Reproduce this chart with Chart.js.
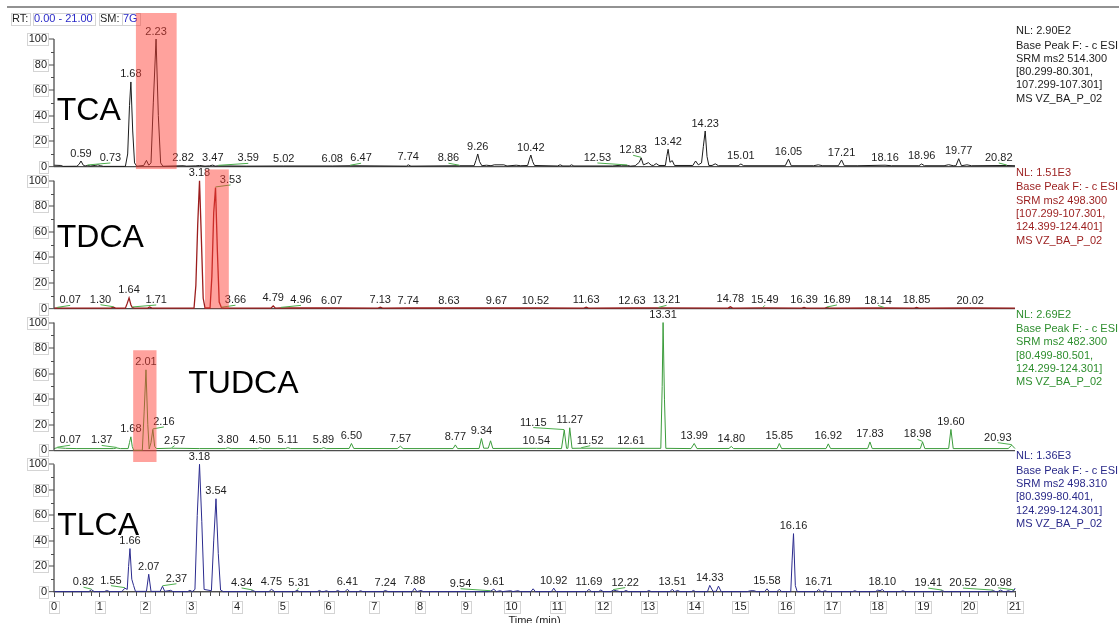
<!DOCTYPE html>
<html>
<head>
<meta charset="utf-8">
<script src="https://cdn.jsdelivr.net/npm/chart.js@4.4.1/dist/chart.umd.min.js"></script>
<style>
  html, body { margin: 0; padding: 0; background: #fff; }
  #wrap { position: relative; width: 1119px; height: 623px; }
  canvas { display: block; }
</style>
</head>
<body>
<div id="wrap"><canvas id="chrom" width="1119" height="623"></canvas></div>
<script>
// ---- retention-time traces: [time (min), relative abundance %] ----
const tcaTrace = [[0.00,1.2],[0.15,1.0],[0.20,0.3],[0.50,0.4],[0.55,2.0],[0.59,4.5],[0.64,1.2],[0.68,0.6],[0.73,1.0],[0.80,0.6],[0.90,1.0],[0.96,1.5],[1.02,0.8],[1.08,0.3],[1.56,0.3],[1.61,10],[1.65,48],[1.68,66.4],[1.72,28],[1.76,3],[1.81,0.4],[1.96,1.0],[2.02,5.0],[2.07,1.2],[2.12,3],[2.17,50],[2.23,100],[2.28,40],[2.33,3],[2.38,0.4],[2.82,0.8],[2.90,0.5],[3.10,0.7],[3.18,1.0],[3.30,0.5],[3.40,0.7],[3.47,1.3],[3.52,0.5],[3.59,0.7],[4.20,0.5],[5.02,0.6],[6.08,0.6],[6.47,0.8],[7.70,0.5],[7.74,1.5],[7.80,0.5],[8.86,0.8],[9.18,0.8],[9.22,5],[9.26,10],[9.30,4],[9.35,0.8],[9.45,1.2],[9.55,0.8],[9.62,1.5],[9.83,1.5],[9.90,0.6],[10.10,1.2],[10.20,0.8],[10.35,1.0],[10.39,6],[10.42,9.2],[10.46,4],[10.50,1.0],[11.00,0.6],[11.06,1.5],[11.12,0.6],[11.26,0.6],[11.31,1.5],[11.36,0.6],[12.20,0.6],[12.40,1.2],[12.53,1.0],[12.60,0.5],[12.70,0.8],[12.79,3.5],[12.83,7],[12.88,1.5],[12.93,2.2],[12.99,3.2],[13.05,1.2],[13.10,1.0],[13.16,2.5],[13.22,1.0],[13.36,1.0],[13.39,8],[13.42,13.7],[13.46,3.5],[13.51,4.8],[13.56,1.0],[13.96,1.0],[14.02,4.5],[14.08,1.5],[14.15,3],[14.19,16],[14.23,28],[14.27,8],[14.31,1.0],[14.38,1.0],[14.45,2.3],[14.52,0.8],[14.95,0.8],[15.01,2.2],[15.07,0.8],[15.98,0.8],[16.05,6],[16.11,0.8],[16.60,0.8],[16.70,1.5],[16.80,0.8],[17.14,0.8],[17.21,5.3],[17.27,0.8],[17.55,0.8],[18.16,1.2],[18.30,0.8],[18.90,0.8],[18.96,2.2],[19.02,0.8],[19.45,0.8],[19.55,1.6],[19.65,0.8],[19.71,0.8],[19.77,6.3],[19.83,0.8],[19.95,1.5],[20.05,0.8],[20.82,1.0],[21.00,0.8]];

const tdcaTrace = [[0.00,0.3],[0.07,0.5],[0.20,0.3],[1.24,0.3],[1.30,1.0],[1.36,0.2],[1.56,0.3],[1.60,4],[1.64,8.3],[1.68,3],[1.71,0.8],[1.76,0.3],[2.05,0.3],[2.09,1.2],[2.14,0.3],[3.06,0.3],[3.10,18],[3.14,65],[3.18,100],[3.22,55],[3.26,8],[3.30,0.4],[3.41,0.4],[3.45,25],[3.49,75],[3.53,94.8],[3.57,45],[3.61,5],[3.66,0.6],[3.72,0.3],[4.74,0.3],[4.79,2],[4.84,0.3],[4.96,0.5],[6.07,0.4],[7.08,0.3],[7.13,1.0],[7.18,0.3],[7.74,0.4],[8.63,0.4],[9.67,0.4],[10.52,0.4],[11.58,0.3],[11.63,1.0],[11.68,0.3],[12.63,0.4],[13.21,0.5],[14.73,0.3],[14.78,1.3],[14.83,0.3],[15.49,0.5],[16.34,0.3],[16.39,0.9],[16.44,0.3],[16.84,0.3],[16.89,0.8],[16.94,0.3],[18.14,0.4],[18.80,0.3],[18.85,0.8],[18.90,0.3],[20.02,0.4],[21.00,0.3]];

const tudcaTrace = [[0.00,1.3],[0.07,2.0],[0.25,1.5],[0.50,1.3],[1.30,1.3],[1.37,1.8],[1.45,1.3],[1.62,1.3],[1.65,6],[1.68,10.5],[1.71,3],[1.74,0],[1.93,0],[1.97,30],[2.01,63],[2.05,20],[2.08,1.0],[2.12,6],[2.16,16.3],[2.20,3],[2.24,1.3],[2.57,1.6],[3.18,1.3],[3.75,1.3],[3.80,1.9],[3.87,1.3],[4.45,1.3],[4.50,1.9],[4.56,1.3],[5.06,1.3],[5.11,2.0],[5.17,1.3],[5.84,1.3],[5.89,2.0],[5.95,1.3],[6.45,1.4],[6.50,5.3],[6.55,1.4],[7.50,1.3],[7.57,3.2],[7.63,1.3],[8.72,1.3],[8.77,4.2],[8.82,1.3],[9.29,1.4],[9.34,9.2],[9.39,1.6],[9.49,1.6],[9.54,7.4],[9.59,1.4],[10.54,1.5],[11.09,1.3],[11.15,15.8],[11.20,1.5],[11.23,1.5],[11.27,17.6],[11.32,1.5],[11.52,1.6],[12.61,1.5],[13.26,1.5],[13.29,50],[13.31,100],[13.34,40],[13.37,1.5],[13.92,1.3],[13.99,5.3],[14.05,1.3],[14.75,1.4],[14.80,3],[14.85,1.3],[15.80,1.3],[15.85,5.3],[15.90,1.3],[16.87,1.3],[16.92,5],[16.97,1.3],[17.78,1.3],[17.83,6.5],[17.88,1.3],[18.93,1.3],[18.98,6.5],[19.03,1.3],[19.55,1.3],[19.60,16.3],[19.65,1.3],[20.85,1.3],[20.93,4],[21.00,1.3]];

const tlcaTrace = [[0.00,0.3],[0.76,0.3],[0.82,1.8],[0.88,0.3],[1.10,0.3],[1.15,1.2],[1.22,0.3],[1.48,0.3],[1.55,3],[1.60,2],[1.63,20],[1.66,34],[1.70,10],[1.74,5],[1.78,0.5],[2.02,0.5],[2.07,13.9],[2.12,0.5],[2.32,0.5],[2.37,4.5],[2.42,0.5],[2.55,1.3],[2.60,0.3],[2.92,0.3],[2.97,1.3],[3.02,0.3],[3.08,2],[3.13,60],[3.18,100],[3.23,55],[3.28,2],[3.44,1],[3.49,40],[3.54,73],[3.59,30],[3.64,1.5],[3.70,0.3],[4.29,0.3],[4.34,1.2],[4.40,0.3],[4.70,0.3],[4.75,2.2],[4.82,0.3],[5.26,0.3],[5.31,1.3],[5.36,0.3],[5.75,0.3],[5.80,1.2],[5.85,0.3],[5.90,0.3],[5.95,1.0],[6.00,0.3],[6.15,0.3],[6.20,1.2],[6.25,0.3],[6.36,0.3],[6.41,2.2],[6.46,0.3],[6.65,0.3],[6.70,1.0],[6.75,0.3],[7.19,0.3],[7.24,1.2],[7.30,0.3],[7.83,0.3],[7.88,3],[7.93,0.3],[8.02,1.2],[8.07,0.3],[9.48,0.3],[9.54,0.6],[9.61,2.2],[9.67,0.3],[9.75,1.0],[9.80,0.3],[9.98,1.0],[10.03,0.3],[10.14,1.0],[10.19,0.3],[10.42,0.3],[10.47,2.5],[10.52,0.3],[10.87,0.3],[10.92,3],[10.97,0.3],[11.64,0.3],[11.69,2.2],[11.74,0.3],[11.90,0.3],[11.95,1.6],[12.00,0.3],[12.17,0.3],[12.22,1.5],[12.29,1.0],[12.36,0.3],[12.45,0.3],[12.50,1.2],[12.55,0.3],[12.95,0.3],[13.00,1.2],[13.05,0.3],[13.46,0.3],[13.51,2.2],[13.56,0.3],[13.63,1.2],[13.68,0.3],[13.93,0.3],[13.97,1.2],[14.02,0.3],[14.28,0.3],[14.33,5.2],[14.40,0.5],[14.47,0.5],[14.52,4.6],[14.58,0.3],[15.15,0.3],[15.22,1.0],[15.30,1.0],[15.35,0.3],[15.53,0.3],[15.58,2.5],[15.63,0.3],[15.80,0.3],[15.85,2.2],[15.90,0.3],[16.10,0.3],[16.13,25],[16.16,45.7],[16.20,5],[16.24,0.3],[16.66,0.3],[16.71,2.0],[16.76,0.3],[16.80,0.3],[16.85,1.0],[16.90,0.3],[17.45,0.3],[17.50,1.0],[17.55,0.3],[17.95,0.3],[18.00,1.5],[18.05,1.0],[18.10,2.0],[18.15,0.3],[18.50,0.3],[18.55,1.0],[18.60,0.3],[19.36,0.3],[19.41,1.1],[19.46,0.3],[20.47,0.3],[20.52,1.1],[20.58,0.3],[20.63,0.3],[20.68,1.5],[20.75,0.3],[20.80,0.3],[20.85,1.0],[20.92,0.3],[20.98,1.3],[21.00,3]];

// ---- labelled peak retention times ----
const tcaPeaks   = [0.59,0.73,1.68,2.23,2.82,3.47,3.59,5.02,6.08,6.47,7.74,8.86,9.26,10.42,12.53,12.83,13.42,14.23,15.01,16.05,17.21,18.16,18.96,19.77,20.82];
const tdcaPeaks  = [0.07,1.30,1.64,1.71,3.18,3.53,3.66,4.79,4.96,6.07,7.13,7.74,8.63,9.67,10.52,11.63,12.63,13.21,14.78,15.49,16.39,16.89,18.14,18.85,20.02];
const tudcaPeaks = [0.07,1.37,1.68,2.01,2.16,2.57,3.80,4.50,5.11,5.89,6.50,7.57,8.77,9.34,10.54,11.15,11.27,11.52,12.61,13.31,13.99,14.80,15.85,16.92,17.83,18.98,19.60,20.93];
const tlcaPeaks  = [0.82,1.55,1.66,2.07,2.37,3.18,3.54,4.34,4.75,5.31,6.41,7.24,7.88,9.54,9.61,10.92,11.69,12.22,13.51,14.33,15.58,16.16,16.71,18.10,19.41,20.52,20.98];

// ---- scan header text per trace ----
const tcaInfo   = ['NL: 2.90E2','Base Peak F: - c ESI','SRM ms2 514.300','[80.299-80.301,','107.299-107.301]','MS VZ_BA_P_02'];
const tdcaInfo  = ['NL: 1.51E3','Base Peak F: - c ESI','SRM ms2 498.300','[107.299-107.301,','124.399-124.401]','MS VZ_BA_P_02'];
const tudcaInfo = ['NL: 2.69E2','Base Peak F: - c ESI','SRM ms2 482.300','[80.499-80.501,','124.299-124.301]','MS VZ_BA_P_02'];
const tlcaInfo  = ['NL: 1.36E3','Base Peak F: - c ESI','SRM ms2 498.310','[80.399-80.401,','124.299-124.301]','MS VZ_BA_P_02'];

// ---- axis ticks ----
const timeTicks = [0,1,2,3,4,5,6,7,8,9,10,11,12,13,14,15,16,17,18,19,20,21];
const abundanceTicks = [0,20,40,60,80,100];

// ---- label placement (horizontal nudge in px for crowded labels) ----
const tcaNudge   = {'0.73':23,'3.59':30,'6.47':11,'8.86':-11,'12.53':-30,'12.83':-8,'20.82':-8};
const tdcaNudge  = {'0.07':13,'1.30':-13,'1.71':24,'3.53':15,'3.66':14,'4.96':20,'13.21':8,'15.49':2,'16.89':10,'18.14':-6};
const tudcaNudge = {'0.07':13,'1.37':-15,'2.16':11,'2.57':3,'11.15':-31,'11.52':9,'18.98':-5,'20.93':-14};
const tlcaNudge  = {'0.82':-8,'1.55':-14,'2.37':14,'4.34':-11,'5.31':2,'9.54':-30,'12.22':12,'19.41':-14,'20.52':-30,'20.98':-16};

const FONT = '"Liberation Sans", Arial, sans-serif';
const AXIS = '#4d4d4d';
const LEADER = '#4cae4c';
const HIGHLIGHT = 'rgba(255, 60, 50, 0.48)';

const panels = [
  { name:'TCA',   trace:tcaTrace,   peaks:tcaPeaks,   nudge:tcaNudge,   info:tcaInfo,   line:'#1c1c1c', width:1,   ink:'#1c1c1c', tag:[0.06,36.7],  mark:[1.79,2.68,120.4,-1.8] },
  { name:'TDCA',  trace:tdcaTrace,  peaks:tdcaPeaks,  nudge:tdcaNudge,  info:tdcaInfo,  line:'#9b1d1d', width:1.3, ink:'#9b1d1d', tag:[0.06,48.3],  mark:[3.30,3.82,108.9,0] },
  { name:'TUDCA', trace:tudcaTrace, peaks:tudcaPeaks, nudge:tudcaNudge, info:tudcaInfo, line:'#3b9c3b', width:1,   ink:'#2f8f2f', tag:[2.935,44.8], mark:[1.73,2.24,78.3,-9.2] },
  { name:'TLCA',  trace:tlcaTrace,  peaks:tlcaPeaks,  nudge:tlcaNudge,  info:tlcaInfo,  line:'#2b2b8e', width:1,   ink:'#2a2a8a', tag:[0.07,44.4],  mark:null }
];

function panelAxis(i) {
  return {
    type: 'linear', position: 'left', stack: 'panels', stackWeight: 1, weight: 4 - i,
    min: 0, max: 111,
    afterBuildTicks: s => { s.ticks = abundanceTicks.map(v => ({ value: v })); },
    afterFit: s => { s.width = 54; },
    border: { display: false },
    grid: {
      drawOnChartArea: true, drawTicks: true, tickLength: 5, tickColor: AXIS, tickWidth: 1,
      color: c => (c.tick && c.tick.value === 0) ? AXIS : 'rgba(0,0,0,0)',
      lineWidth: c => (c.tick && c.tick.value === 0) ? 1.3 : 0
    },
    ticks: { font: { family: FONT, size: 11 }, color: '#222', padding: 2, autoSkip: false, maxRotation: 0 }
  };
}

const scales = {
  x: {
    type: 'linear', position: 'bottom', min: 0, max: 21,
    afterBuildTicks: s => { s.ticks = timeTicks.map(v => ({ value: v })); },
    afterFit: s => { s.height = 31; },
    border: { display: true, color: AXIS, width: 1.3 },
    grid: { drawOnChartArea: false, tickLength: 5, tickColor: AXIS },
    ticks: { font: { family: FONT, size: 11 }, color: '#222', padding: 3, autoSkip: false, maxRotation: 0 }
  }
};
panels.forEach((p, i) => { scales['y' + i] = panelAxis(i); });

function boxAround(ctx, cx, cy, w, h) {
  ctx.strokeRect(Math.round(cx - w / 2) + 0.5, Math.round(cy - h / 2) + 0.5, Math.round(w), Math.round(h));
}

const chromDecor = {
  id: 'chromDecor',
  afterDatasetsDraw(chart) {
    const ctx = chart.ctx, xs = chart.scales.x, ca = chart.chartArea;
    ctx.save();
    panels.forEach((p, i) => {
      const ys = chart.scales['y' + i];
      // vertical abundance axis for this trace
      ctx.strokeStyle = AXIS; ctx.lineWidth = 1.3;
      ctx.beginPath();
      ctx.moveTo(ca.left, ys.getPixelForValue(0));
      ctx.lineTo(ca.left, ys.getPixelForValue(100));
      ctx.stroke();
      // minor abundance ticks
      ctx.lineWidth = 1;
      for (let v = 10; v < 100; v += 20) {
        const y = Math.round(ys.getPixelForValue(v)) + 0.5;
        ctx.beginPath(); ctx.moveTo(ca.left - 3, y); ctx.lineTo(ca.left, y); ctx.stroke();
      }
      // tick label frames
      ctx.font = '11px ' + FONT; ctx.strokeStyle = '#d4d4d4';
      abundanceTicks.forEach(v => {
        const w = ctx.measureText(String(v)).width;
        const y = ys.getPixelForValue(v);
        boxAround(ctx, ca.left - 7 - w / 2, y, w + 3, 12);
      });
      // peak retention-time labels
      ctx.textAlign = 'center'; ctx.textBaseline = 'bottom';
      p.peaks.forEach(rt => {
        const key = rt.toFixed(2);
        const pt = p.trace.find(d => Math.abs(d[0] - rt) < 1e-6);
        const v = pt ? pt[1] : 0;
        const ax = xs.getPixelForValue(rt), ay = ys.getPixelForValue(v);
        const dx = p.nudge[key] || 0;
        if (dx) {
          ctx.strokeStyle = LEADER; ctx.lineWidth = 1;
          ctx.beginPath(); ctx.moveTo(ax, ay - 0.5); ctx.lineTo(ax + dx, ay - 2.5); ctx.stroke();
        }
        ctx.fillStyle = '#1e1e1e';
        ctx.fillText(key, ax + dx, ay - 2);
      });
    });
    ctx.restore();
  },
  afterDraw(chart) {
    const ctx = chart.ctx, xs = chart.scales.x, ca = chart.chartArea;
    ctx.save();
    // time axis minor ticks and label frames
    ctx.strokeStyle = AXIS; ctx.lineWidth = 1;
    for (let k = 1; k < 105; k++) {
      if (k % 5 === 0) continue;
      const x = Math.round(xs.getPixelForValue(k / 5)) + 0.5;
      ctx.beginPath(); ctx.moveTo(x, ca.bottom); ctx.lineTo(x, ca.bottom + 4); ctx.stroke();
    }
    ctx.font = '11px ' + FONT; ctx.strokeStyle = '#d4d4d4';
    timeTicks.forEach(t => {
      const w = ctx.measureText(String(t)).width;
      boxAround(ctx, xs.getPixelForValue(t), ca.bottom + 14.5, w + 4, 12);
    });
    // axis title
    ctx.fillStyle = '#1e1e1e'; ctx.textAlign = 'center'; ctx.textBaseline = 'alphabetic';
    ctx.fillText('Time (min)', (ca.left + ca.right) / 2, 624);

    // header strip
    ctx.strokeStyle = '#6e6e6e'; ctx.lineWidth = 1.3;
    ctx.beginPath(); ctx.moveTo(7, 7); ctx.lineTo(1119, 7); ctx.stroke();
    ctx.textAlign = 'left'; ctx.textBaseline = 'middle';
    const header = [['RT:', '#1e1e1e', 12], ['0.00 - 21.00', '#2a2ac8', 34], ['SM:', '#1e1e1e', 100], ['7G', '#2a2ac8', 123]];
    header.forEach(([txt, col, x]) => {
      ctx.fillStyle = col; ctx.fillText(txt, x, 19);
      const w = ctx.measureText(txt).width;
      ctx.strokeStyle = '#d4d4d4'; ctx.lineWidth = 1;
      boxAround(ctx, x + w / 2, 19, w + 3, 12);
    });

    panels.forEach((p, i) => {
      const ys = chart.scales['y' + i];
      // scan info on the right
      ctx.fillStyle = p.ink; ctx.font = '11px ' + FONT; ctx.textAlign = 'left'; ctx.textBaseline = 'middle';
      const top = ys.getPixelForValue(100);
      ctx.fillText(p.info[0], ca.right + 1, top - 8);
      for (let k = 1; k < p.info.length; k++) ctx.fillText(p.info[k], ca.right + 1, top + 6.5 + (k - 1) * 13.3);
      // compound name
      ctx.fillStyle = '#000'; ctx.font = '32px ' + FONT; ctx.textBaseline = 'alphabetic';
      ctx.fillText(p.name, xs.getPixelForValue(p.tag[0]), ys.getPixelForValue(p.tag[1]));
    });

    // highlighted retention windows
    ctx.fillStyle = HIGHLIGHT;
    panels.forEach((p, i) => {
      if (!p.mark) return;
      const ys = chart.scales['y' + i];
      const x0 = xs.getPixelForValue(p.mark[0]), x1 = xs.getPixelForValue(p.mark[1]);
      const y0 = ys.getPixelForValue(p.mark[2]), y1 = ys.getPixelForValue(p.mark[3]);
      ctx.fillRect(x0, y0, x1 - x0, y1 - y0);
    });
    ctx.restore();
  }
};

new Chart(document.getElementById('chrom'), {
  type: 'line',
  data: {
    datasets: panels.map((p, i) => ({
      label: p.name,
      data: p.trace.map(d => ({ x: d[0], y: d[1] })),
      yAxisID: 'y' + i,
      borderColor: p.line,
      borderWidth: p.width,
      pointRadius: 0,
      tension: 0,
      fill: false,
      clip: false
    }))
  },
  options: {
    responsive: false,
    animation: false,
    events: [],
    layout: { padding: { top: 25, right: 104, left: 0, bottom: 0 } },
    scales,
    plugins: { legend: { display: false }, tooltip: { enabled: false } }
  },
  plugins: [chromDecor]
});
</script>
</body>
</html>
